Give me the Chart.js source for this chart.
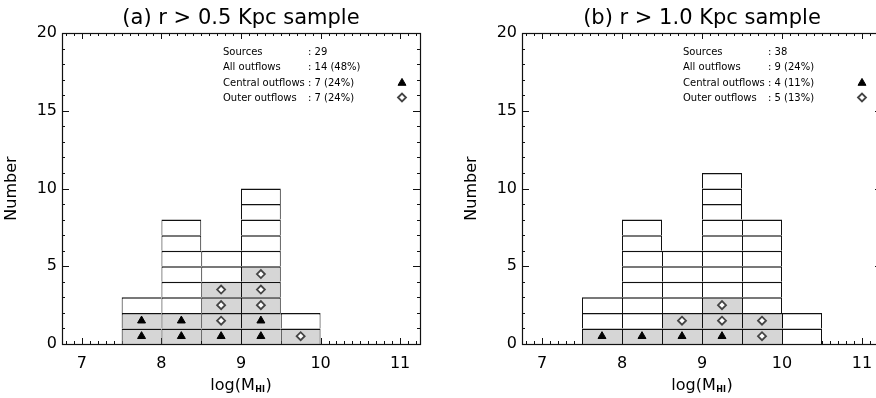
<!DOCTYPE html>
<html>
<head>
<meta charset="utf-8">
<title>HI mass histograms</title>
<script src="https://cdn.jsdelivr.net/npm/chart.js@4.4.1/dist/chart.umd.min.js"></script>
<style>
  html, body { margin: 0; padding: 0; background: #fff; }
  body { position: relative; width: 876px; height: 398px; overflow: hidden; }
  canvas { position: absolute; top: 0; }
  #panelA { left: 0; }
  #panelB { left: 440px; }
</style>
</head>
<body>
<canvas id="panelA" width="440" height="398"></canvas>
<canvas id="panelB" width="462" height="398"></canvas>
<script>
// axis ticks
const xTicks = [7, 8, 9, 10, 11];
const yTicks = [0, 5, 10, 15, 20];
const statLabels = ['Sources', 'All outflows', 'Central outflows', 'Outer outflows'];

// panel (a)
const titleA = '(a) r > 0.5 Kpc sample';
const binsA = [7.75, 8.25, 8.75, 9.25, 9.75];
const totalA = [3, 8, 6, 10, 2];
const centralA = [2, 2, 1, 2, 0];
const outerA = [0, 0, 3, 3, 1];
const statsA = [': 29', ': 14 (48%)', ': 7 (24%)', ': 7 (24%)'];

// panel (b)
const titleB = '(b) r > 1.0 Kpc sample';
const binsB = [7.75, 8.25, 8.75, 9.25, 9.75, 10.25];
const totalB = [3, 8, 6, 11, 8, 2];
const centralB = [1, 1, 1, 1, 0, 0];
const outerB = [0, 0, 1, 2, 2, 0];
const statsB = [': 38', ': 9 (24%)', ': 4 (11%)', ': 5 (13%)'];

const LINE = '#111';
const SHADE = '#d6d6d6';
const FONT = '"DejaVu Sans", sans-serif';

Chart.defaults.font.family = FONT;
Chart.defaults.color = '#000';

// one bar dataset per row of unit cells
function cellDatasets(bins, total, central, outer) {
    const sets = [];
    const rows = Math.max(...total);
    for (let k = 0; k < rows; k++) {
        const cells = [];
        bins.forEach(function (c, i) {
            if (total[i] > k) {
                cells.push({
                    x: c,
                    y: [k, k + 1],
                    shaded: k < central[i] + outer[i],
                    lastInRow: !(total[i + 1] > k)
                });
            }
        });
        sets.push({
            type: 'bar',
            data: cells,
            grouped: false,
            order: 1,
            barPercentage: 1,
            categoryPercentage: 1,
            inflateAmount: 0,
            borderSkipped: false,
            borderColor: LINE,
            backgroundColor: ctx => (ctx.raw && ctx.raw.shaded) ? SHADE : '#fff',
            borderWidth: ctx => ({top: 1.5, left: 1, bottom: 0, right: (ctx.raw && ctx.raw.lastInRow) ? 1 : 0})
        });
    }
    return sets;
}

function markerData(bins, first, count) {
    const pts = [];
    bins.forEach(function (c, i) {
        for (let j = 0; j < count[i]; j++) {
            pts.push({x: c, y: first[i] + j + 0.5});
        }
    });
    return pts;
}

function drawTriangle(ctx, x, y, r) {
    const s = Math.sin(Math.PI / 3) * r;
    ctx.beginPath();
    ctx.moveTo(x, y - r);
    ctx.lineTo(x + s, y + r / 2);
    ctx.lineTo(x - s, y + r / 2);
    ctx.closePath();
    ctx.fillStyle = '#000';
    ctx.fill();
    ctx.strokeStyle = '#000';
    ctx.lineWidth = 1;
    ctx.stroke();
}

function drawDiamond(ctx, x, y, r) {
    ctx.beginPath();
    ctx.moveTo(x - r, y);
    ctx.lineTo(x, y - r);
    ctx.lineTo(x + r, y);
    ctx.lineTo(x, y + r);
    ctx.closePath();
    ctx.fillStyle = '#fff';
    ctx.fill();
    ctx.strokeStyle = '#444';
    ctx.lineWidth = 1.8;
    ctx.stroke();
}

// inward tick marks, frame box, stats block and x title
const decor = {
    id: 'decor',
    beforeDatasetsDraw(chart) {
        const {ctx, chartArea: a, scales: {x, y}} = chart;
        ctx.save();
        ctx.strokeStyle = LINE;
        ctx.lineWidth = 1;
        ctx.beginPath();
        for (let i = 68; i <= 112; i++) {
            const px = Math.round(x.getPixelForValue(i / 10)) + 0.5;
            const len = i % 10 === 0 ? 6 : 3;
            ctx.moveTo(px, a.bottom);
            ctx.lineTo(px, a.bottom - len);
            ctx.moveTo(px, a.top);
            ctx.lineTo(px, a.top + len);
        }
        for (let v = 1; v < 20; v++) {
            const py = Math.round(y.getPixelForValue(v)) + 0.5;
            const len = v % 5 === 0 ? 7 : 3;
            ctx.moveTo(a.left, py);
            ctx.lineTo(a.left + len, py);
            ctx.moveTo(a.right, py);
            ctx.lineTo(a.right - len, py);
        }
        ctx.stroke();
        ctx.restore();
    },
    afterDatasetsDraw(chart) {
        const {ctx, chartArea: a} = chart;
        ctx.save();
        ctx.strokeStyle = LINE;
        ctx.lineWidth = 1.2;
        ctx.strokeRect(a.left + 0.5, a.top + 0.5, a.right - a.left, a.bottom - a.top);
        ctx.restore();
    },
    afterDraw(chart, args, opts) {
        const {ctx, chartArea: a} = chart;
        ctx.save();
        ctx.fillStyle = '#000';
        ctx.font = '10px ' + FONT;
        ctx.textBaseline = 'middle';
        const rowY = [19, 34.5, 50, 65.5];
        statLabels.forEach(function (label, i) {
            ctx.fillStyle = '#000';
            ctx.fillText(label, a.left + 161, a.top + rowY[i]);
            ctx.fillText(opts.stats[i], a.left + 246, a.top + rowY[i]);
        });
        drawTriangle(ctx, a.left + 340, a.top + 50, 4.6);
        drawDiamond(ctx, a.left + 340, a.top + 64.5, 4);

        // x axis title with subscript
        const cx = (a.left + a.right) / 2;
        const base = 390;
        ctx.fillStyle = '#000';
        ctx.textBaseline = 'alphabetic';
        ctx.font = '16px ' + FONT;
        const w1 = ctx.measureText('log(M').width;
        const w3 = ctx.measureText(')').width;
        ctx.font = 'bold 8px ' + FONT;
        const w2 = ctx.measureText('HI').width + 1;
        let x0 = cx - (w1 + w2 + w3) / 2;
        ctx.font = '16px ' + FONT;
        ctx.fillText('log(M', x0, base);
        ctx.font = 'bold 8px ' + FONT;
        ctx.fillText('HI', x0 + w1 + 0.5, base + 2);
        ctx.font = '16px ' + FONT;
        ctx.fillText(')', x0 + w1 + w2, base);
        ctx.restore();
    }
};

function makePanel(id, title, bins, total, central, outer, stats, padLeft) {
    const datasets = cellDatasets(bins, total, central, outer);
    datasets.push({
        type: 'scatter',
        data: markerData(bins, bins.map(() => 0), central),
        order: 0,
        pointStyle: 'triangle',
        pointRadius: 4.6,
        pointBackgroundColor: '#000',
        pointBorderColor: '#000',
        pointBorderWidth: 1,
        showLine: false
    });
    datasets.push({
        type: 'scatter',
        data: markerData(bins, central, outer),
        order: 0,
        pointStyle: 'rectRot',
        pointRadius: 4,
        pointBackgroundColor: '#fff',
        pointBorderColor: '#444',
        pointBorderWidth: 1.8,
        showLine: false
    });

    return new Chart(document.getElementById(id), {
        type: 'bar',
        data: {datasets: datasets},
        plugins: [decor],
        options: {
            responsive: false,
            animation: false,
            devicePixelRatio: 1,
            layout: {padding: {left: padLeft, right: 20, top: 0, bottom: 0}},
            plugins: {
                legend: {display: false},
                tooltip: {enabled: false},
                title: {
                    display: true,
                    text: title,
                    fullSize: false,
                    color: '#000',
                    font: {size: 21, weight: 'normal', family: FONT},
                    padding: {top: 6, bottom: 1.8}
                },
                decor: {stats: stats}
            },
            scales: {
                x: {
                    type: 'linear',
                    min: 6.75,
                    max: 11.25,
                    offset: false,
                    grid: {display: false, drawTicks: false, offset: false},
                    border: {display: false},
                    afterBuildTicks: axis => { axis.ticks = xTicks.map(v => ({value: v})); },
                    afterFit: axis => { axis.height = 54; },
                    ticks: {padding: 10, maxRotation: 0, autoSkip: false, color: '#000', font: {size: 16}}
                },
                y: {
                    type: 'linear',
                    min: 0,
                    max: 20,
                    grid: {display: false, drawTicks: false},
                    border: {display: false},
                    afterBuildTicks: axis => { axis.ticks = yTicks.map(v => ({value: v})); },
                    afterFit: axis => { axis.width = 62; },
                    ticks: {padding: 5, color: '#000', font: {size: 16}},
                    title: {display: true, text: 'Number', color: '#000', font: {size: 16}, padding: {top: 2, bottom: 0}}
                }
            }
        }
    });
}

makePanel('panelA', titleA, binsA, totalA, centralA, outerA, statsA, 0);
makePanel('panelB', titleB, binsB, totalB, centralB, outerB, statsB, 20);
</script>
</body>
</html>
